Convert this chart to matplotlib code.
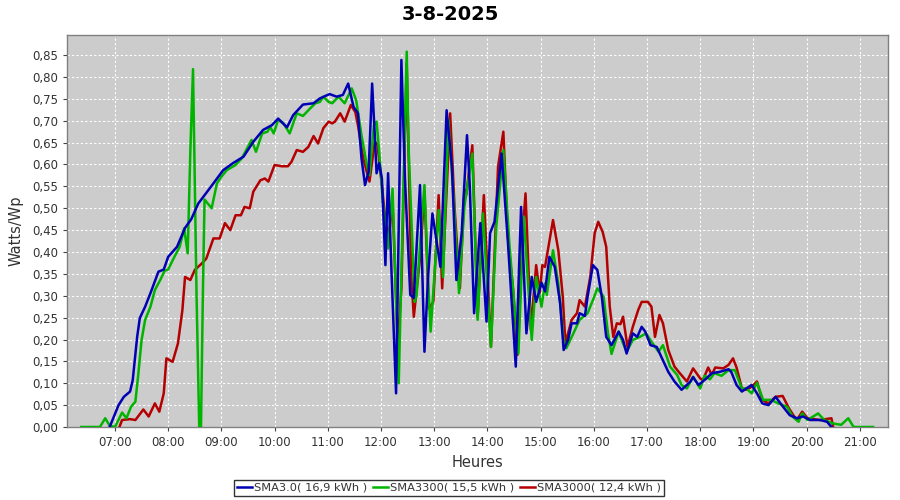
import matplotlib
matplotlib.use("Agg")
import matplotlib.pyplot as plt
from matplotlib.ticker import FixedLocator, FuncFormatter

title = "3-8-2025"
x_label = "Heures"
y_label = "Watts/Wp"
series_names = ["SMA3.0( 16,9 kWh )", "SMA3300( 15,5 kWh )", "SMA3000( 12,4 kWh )"]
hour_ticks = list(range(7, 22))
y_ticks = [i * 0.05 for i in range(18)]

sma30_times = ["06:54", "07:04", "07:10", "07:17", "07:20", "07:25", "07:28", "07:34", "07:40", "07:49",
               "07:55", "08:00", "08:10", "08:19", "08:26", "08:34", "08:47", "09:02", "09:13", "09:25",
               "09:36", "09:47", "09:57", "10:04", "10:14", "10:21", "10:32", "10:44", "10:51", "11:02",
               "11:10", "11:17", "11:23", "11:29", "11:34", "11:38", "11:42", "11:46", "11:50", "11:53",
               "11:55", "11:58", "12:01", "12:05", "12:08", "12:12", "12:17", "12:23", "12:27", "12:33",
               "12:37", "12:44", "12:49", "12:53", "12:58", "13:07", "13:14", "13:20", "13:25", "13:31",
               "13:37", "13:40", "13:45", "13:52", "13:59", "14:03", "14:08", "14:16", "14:23", "14:32",
               "14:38", "14:44", "14:50", "14:55", "15:01", "15:05", "15:10", "15:16", "15:22", "15:26",
               "15:31", "15:35", "15:41", "15:44", "15:50", "15:53", "15:59", "16:04", "16:09", "16:14",
               "16:20", "16:28", "16:33", "16:37", "16:44", "16:49", "16:54", "16:58", "17:04", "17:11",
               "17:16", "17:24", "17:31", "17:39", "17:49", "17:52", "17:58", "18:07", "18:13", "18:22",
               "18:32", "18:35", "18:41", "18:47", "18:52", "18:58", "19:04", "19:10", "19:17", "19:25",
               "19:32", "19:41", "19:49", "19:56", "20:04", "20:15", "20:23", "20:28"]
sma30_values = [0.0, 0.05, 0.069, 0.081, 0.107, 0.206, 0.249, 0.275, 0.306, 0.355,
                0.36, 0.389, 0.412, 0.455, 0.475, 0.511, 0.546, 0.587, 0.603, 0.618,
                0.652, 0.679, 0.69, 0.705, 0.685, 0.713, 0.737, 0.74, 0.751, 0.761,
                0.755, 0.759, 0.785, 0.732, 0.717, 0.614, 0.553, 0.583, 0.785, 0.667,
                0.58, 0.603, 0.568, 0.37, 0.58, 0.347, 0.077, 0.839, 0.569, 0.302,
                0.295, 0.553, 0.172, 0.34, 0.488, 0.366, 0.724, 0.595, 0.336, 0.443,
                0.667, 0.557, 0.26, 0.466, 0.241, 0.443, 0.469, 0.625, 0.427, 0.138,
                0.503, 0.214, 0.343, 0.286, 0.33, 0.31, 0.389, 0.366, 0.283, 0.176,
                0.199, 0.237, 0.237, 0.26, 0.254, 0.298, 0.37, 0.359, 0.298, 0.206,
                0.187, 0.218, 0.199, 0.168, 0.214, 0.206, 0.229, 0.218, 0.187, 0.183,
                0.161, 0.126, 0.104, 0.085, 0.104, 0.114, 0.096, 0.111, 0.123, 0.126,
                0.132, 0.126, 0.096, 0.081, 0.088, 0.096, 0.077, 0.054, 0.05, 0.069,
                0.05, 0.027, 0.02, 0.024, 0.016, 0.016, 0.012, 0.0]

sma3300_times = ["06:22", "06:30", "06:37", "06:43", "06:49", "06:54", "07:00", "07:08", "07:13", "07:18",
                 "07:23", "07:26", "07:30", "07:34", "07:40", "07:45", "07:51", "07:56", "08:00", "08:06",
                 "08:13", "08:18", "08:22", "08:25", "08:28", "08:32", "08:35", "08:37", "08:39", "08:41",
                 "08:49", "08:55", "09:00", "09:06", "09:16", "09:23", "09:29", "09:34", "09:39", "09:46",
                 "09:52", "09:55", "09:59", "10:04", "10:10", "10:17", "10:25", "10:32", "10:40", "10:46",
                 "10:51", "10:55", "11:01", "11:05", "11:12", "11:19", "11:27", "11:32", "11:38", "11:44",
                 "11:47", "11:52", "11:55", "11:58", "12:02", "12:08", "12:13", "12:20", "12:29", "12:31",
                 "12:38", "12:40", "12:49", "12:53", "12:56", "13:02", "13:05", "13:10", "13:16", "13:22",
                 "13:28", "13:34", "13:43", "13:49", "13:55", "14:04", "14:10", "14:18", "14:25", "14:35",
                 "14:41", "14:50", "14:55", "15:01", "15:05", "15:07", "15:14", "15:20", "15:26", "15:29",
                 "15:37", "15:44", "15:53", "15:59", "16:04", "16:11", "16:16", "16:20", "16:28", "16:33",
                 "16:37", "16:44", "16:52", "16:59", "17:05", "17:13", "17:18", "17:26", "17:34", "17:39",
                 "17:45", "17:52", "18:00", "18:05", "18:11", "18:16", "18:24", "18:32", "18:39", "18:47",
                 "18:52", "18:58", "19:04", "19:11", "19:20", "19:28", "19:33", "19:38", "19:44", "19:51",
                 "19:55", "20:01", "20:13", "20:20", "20:30", "20:39", "20:47", "20:53", "21:00", "21:08",
                 "21:15"]
sma3300_values = [0.0, 0.0, 0.0, 0.0, 0.02, 0.003, 0.0, 0.033, 0.02, 0.046,
                  0.058, 0.115, 0.199, 0.245, 0.275, 0.313, 0.336, 0.357, 0.36, 0.385,
                  0.412, 0.454, 0.397, 0.633, 0.818, 0.30, 0.0, 0.0, 0.29, 0.52,
                  0.50, 0.557, 0.572, 0.587, 0.599, 0.614, 0.637, 0.656, 0.629, 0.671,
                  0.675, 0.686, 0.671, 0.702, 0.694, 0.671, 0.717, 0.711, 0.728, 0.74,
                  0.743, 0.755, 0.743, 0.74, 0.755, 0.74, 0.774, 0.747, 0.667, 0.599,
                  0.576, 0.69, 0.698, 0.629, 0.515, 0.408, 0.545, 0.10, 0.858, 0.644,
                  0.286, 0.30, 0.553, 0.34, 0.218, 0.40, 0.496, 0.343, 0.702, 0.519,
                  0.306, 0.503, 0.625, 0.245, 0.488, 0.183, 0.458, 0.633, 0.412, 0.168,
                  0.481, 0.199, 0.343, 0.275, 0.328, 0.302, 0.404, 0.328, 0.199, 0.18,
                  0.214, 0.245, 0.26, 0.29, 0.317, 0.298, 0.214, 0.167, 0.218, 0.191,
                  0.172, 0.199, 0.206, 0.214, 0.195, 0.172, 0.187, 0.138, 0.119, 0.096,
                  0.088, 0.115, 0.088, 0.117, 0.109, 0.123, 0.117, 0.13, 0.13, 0.088,
                  0.088, 0.077, 0.101, 0.062, 0.062, 0.054, 0.05, 0.046, 0.024, 0.012,
                  0.031, 0.016, 0.031, 0.016, 0.008, 0.005, 0.02, 0.0, 0.0, 0.0,
                  0.0]

sma3000_times = ["07:05", "07:08", "07:17", "07:23", "07:32", "07:38", "07:45", "07:50", "07:55", "07:58",
                 "08:05", "08:11", "08:16", "08:19", "08:25", "08:30", "08:38", "08:43", "08:51", "08:58",
                 "09:04", "09:10", "09:16", "09:22", "09:26", "09:32", "09:36", "09:44", "09:49", "09:53",
                 "10:00", "10:08", "10:15", "10:19", "10:25", "10:32", "10:38", "10:44", "10:49", "10:55",
                 "11:01", "11:05", "11:08", "11:14", "11:19", "11:26", "11:31", "11:34", "11:40", "11:44",
                 "11:47", "11:53", "11:56", "12:01", "12:05", "12:09", "12:13", "12:19", "12:23", "12:29",
                 "12:34", "12:37", "12:44", "12:49", "12:54", "12:59", "13:05", "13:09", "13:18", "13:23",
                 "13:29", "13:34", "13:36", "13:43", "13:49", "13:56", "14:04", "14:12", "14:18", "14:23",
                 "14:29", "14:34", "14:40", "14:43", "14:49", "14:55", "14:59", "15:02", "15:05", "15:14",
                 "15:20", "15:25", "15:28", "15:35", "15:41", "15:44", "15:50", "15:56", "16:01", "16:05",
                 "16:10", "16:14", "16:18", "16:22", "16:26", "16:30", "16:33", "16:38", "16:44", "16:50",
                 "16:54", "17:01", "17:05", "17:09", "17:14", "17:18", "17:24", "17:31", "17:37", "17:45",
                 "17:52", "18:00", "18:03", "18:09", "18:13", "18:17", "18:26", "18:32", "18:37", "18:41",
                 "18:47", "18:52", "18:58", "19:04", "19:10", "19:17", "19:25", "19:33", "19:40", "19:45",
                 "19:49", "19:55", "20:01", "20:08", "20:15", "20:28", "20:30"]
sma3000_values = [0.0, 0.016, 0.018, 0.016, 0.04, 0.024, 0.054, 0.035, 0.077, 0.157,
                  0.149, 0.191, 0.267, 0.343, 0.336, 0.359, 0.374, 0.385, 0.431, 0.431,
                  0.466, 0.45, 0.484, 0.484, 0.503, 0.5, 0.538, 0.564, 0.568, 0.561,
                  0.599, 0.596, 0.596, 0.606, 0.633, 0.629, 0.64, 0.665, 0.648, 0.683,
                  0.698, 0.694, 0.698, 0.717, 0.698, 0.736, 0.72, 0.69, 0.614, 0.583,
                  0.561, 0.652, 0.645, 0.553, 0.469, 0.435, 0.515, 0.187, 0.317, 0.831,
                  0.351, 0.252, 0.385, 0.538, 0.271, 0.286, 0.53, 0.317, 0.717, 0.5,
                  0.317, 0.542, 0.53, 0.644, 0.252, 0.53, 0.183, 0.595, 0.675, 0.435,
                  0.313, 0.165, 0.45, 0.534, 0.222, 0.37, 0.306, 0.37, 0.366, 0.473,
                  0.404, 0.298, 0.191, 0.245, 0.26, 0.29, 0.275, 0.343, 0.443, 0.469,
                  0.446, 0.412, 0.275, 0.206, 0.237, 0.235, 0.252, 0.183, 0.229, 0.267,
                  0.286, 0.286, 0.275, 0.206, 0.256, 0.237, 0.176, 0.138, 0.123, 0.104,
                  0.134, 0.111, 0.107, 0.136, 0.119, 0.136, 0.134, 0.142, 0.157, 0.136,
                  0.088, 0.085, 0.092, 0.104, 0.062, 0.054, 0.069, 0.071, 0.043, 0.027,
                  0.016, 0.035, 0.02, 0.018, 0.016, 0.02, 0.0]

colors = ["#0000b4", "#00b400", "#b40000"]


def to_hours(times):
    return [int(t[:2]) + int(t[3:]) / 60.0 for t in times]


fig = plt.figure(figsize=(9, 5), dpi=100)
ax = fig.add_axes([67 / 900, 1 - 427 / 500, (888 - 67) / 900, (427 - 35) / 500])
ax.set_facecolor("#cccccc")

data = [(sma30_times, sma30_values), (sma3300_times, sma3300_values), (sma3000_times, sma3000_values)]
lines = []
for i, ((t, v), name, c) in enumerate(zip(data, series_names, colors)):
    ln, = ax.plot(to_hours(t), v, color=c, lw=1.8, label=name, zorder=5 - i,
                  solid_joinstyle="round")
    lines.append(ln)

ax.set_xlim(6.098, 21.53)
ax.set_ylim(0, 0.896)
ax.xaxis.set_major_locator(FixedLocator(hour_ticks))
ax.xaxis.set_major_formatter(FuncFormatter(lambda x, p: "%02d:00" % int(round(x))))
ax.yaxis.set_major_locator(FixedLocator(y_ticks))
ax.yaxis.set_major_formatter(FuncFormatter(lambda y, p: ("%.2f" % y).replace(".", ",")))
ax.grid(True, color="white", linestyle=(0, (2, 2)), linewidth=0.8)
ax.set_axisbelow(True)
for s in ax.spines.values():
    s.set_color("#808080")
    s.set_linewidth(1.0)
ax.tick_params(axis="both", labelsize=8.5, colors="#444444", length=3, width=0.8,
               labelcolor="#333333")

ax.set_xlabel(x_label, fontsize=10.5, color="#333333", labelpad=4)
ax.set_ylabel(y_label, fontsize=10.5, color="#333333", labelpad=6)
fig.text(0.5, 1 - 14 / 500, title, ha="center", va="center", fontsize=14, fontweight="bold")

leg = fig.legend(handles=lines, loc="center", bbox_to_anchor=(449 / 900, 1 - 488 / 500), ncol=3,
                 fontsize=8.2, frameon=True, fancybox=False, handlelength=1.3, handletextpad=0.2,
                 columnspacing=0.5, borderpad=0.3, borderaxespad=0)
leg.get_frame().set_edgecolor("black")
leg.get_frame().set_linewidth(1.0)
for t in leg.get_texts():
    t.set_color("#333333")

fig.savefig("out.png", dpi=100)
